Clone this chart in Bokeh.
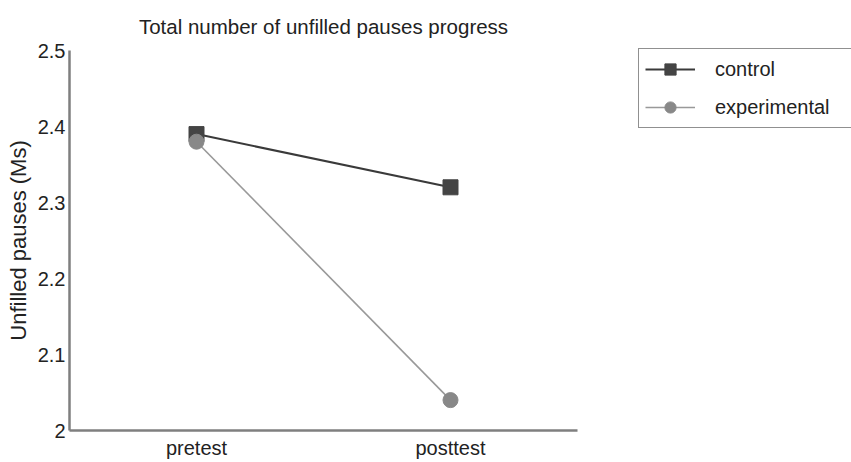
from bokeh.plotting import figure
from bokeh.models import Legend, LegendItem, FixedTicker, Range1d, ColumnDataSource
from bokeh.embed import file_html
from bokeh.resources import INLINE

# ---- data ----
categories = ["pretest", "posttest"]
control = [2.39, 2.32]
experimental = [2.38, 2.04]
y_ticks = [2.0, 2.1, 2.2, 2.3, 2.4, 2.5]
y_tick_labels = ["2", "2.1", "2.2", "2.3", "2.4", "2.5"]
title_text = "Total number of unfilled pauses progress"
y_label = "Unfilled pauses (Ms)"
series_names = ["control", "experimental"]

FONT = "Liberation Sans"

p = figure(frame_width=508, frame_height=380, output_backend="svg", toolbar_location=None,
           x_range=categories, y_range=Range1d(2.0, 2.5),
           min_border_left=69, min_border_right=272, min_border_top=50, min_border_bottom=30,
           title=title_text)
p.outline_line_color = None
p.xgrid.visible = False
p.ygrid.visible = False
p.background_fill_color = "white"
p.border_fill_color = "white"

p.title.align = "center"
p.title.vertical_align = "top"
p.title.text_font = FONT
p.title.text_font_size = "20.5px"
p.title.text_font_style = "normal"
p.title.text_color = "#222222"
p.title.standoff = 22

src_c = ColumnDataSource(dict(x=categories, y=control))
src_e = ColumnDataSource(dict(x=categories, y=experimental))

lc = p.line("x", "y", source=src_c, line_color="#3a3a3a", line_width=2)
sc = p.scatter("x", "y", source=src_c, marker="square", size=15,
               fill_color="#444444", line_color="#444444")
le = p.line("x", "y", source=src_e, line_color="#999999", line_width=1.6)
se = p.scatter("x", "y", source=src_e, marker="circle", size=15,
               fill_color="#888888", line_color="#888888")

# x axis
p.xaxis.major_tick_line_color = None
p.xaxis.minor_tick_line_color = None
p.xaxis.major_tick_out = 0
p.xaxis.major_tick_in = 0
p.xaxis.major_label_standoff = 6
p.xaxis.axis_line_color = "#7f7f7f"
p.xaxis.axis_line_width = 2.5
p.xaxis.major_label_text_font = FONT
p.xaxis.major_label_text_font_size = "20px"
p.xaxis.major_label_text_color = "#222222"

# y axis
p.yaxis.ticker = FixedTicker(ticks=y_ticks)
p.yaxis.major_label_overrides = {t: l for t, l in zip(y_ticks, y_tick_labels)}
p.yaxis.minor_tick_line_color = None
p.yaxis.major_tick_line_color = None
p.yaxis.major_tick_out = 0
p.yaxis.major_tick_in = 0
p.yaxis.major_label_standoff = 4
p.yaxis.axis_line_color = "#7f7f7f"
p.yaxis.axis_line_width = 2.5
p.yaxis.major_label_text_font = FONT
p.yaxis.major_label_text_font_size = "20px"
p.yaxis.major_label_text_color = "#222222"
p.yaxis.axis_label = y_label
p.yaxis.axis_label_text_font = FONT
p.yaxis.axis_label_text_font_size = "22px"
p.yaxis.axis_label_text_font_style = "normal"
p.yaxis.axis_label_text_color = "#222222"
p.yaxis.axis_label_standoff = 4

legend = Legend(items=[LegendItem(label=series_names[0], renderers=[lc, sc]),
                       LegendItem(label=series_names[1], renderers=[le, se])],
                location=(61, 302), orientation="vertical",
                border_line_color="#222222", border_line_width=1.2,
                background_fill_color="white", background_fill_alpha=1,
                label_text_font=FONT, label_text_font_size="20px", label_text_color="#222222",
                glyph_width=50, glyph_height=28, label_height=28, label_width=180,
                label_standoff=20, padding=6, spacing=10, margin=0)
p.add_layout(legend, "right")

open("out.html", "w").write(file_html(p, INLINE))
